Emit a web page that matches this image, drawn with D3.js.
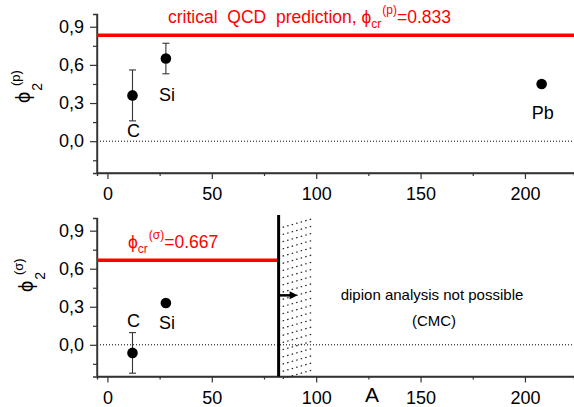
<!DOCTYPE html>
<html>
<head>
<meta charset="utf-8">
<script src="https://cdn.jsdelivr.net/npm/d3@7"></script>
<style>
    body { margin: 0; background: #fff; }
    svg { display: block; font-family: "Liberation Sans", Arial, sans-serif; }
</style>
</head>
<body>
<div id="chart"></div>
<script>

// --- data ---
const nucleiP = ["C", "Si", "Pb"];
const massP = [12, 28, 208];
const phiP = [0.36, 0.65, 0.45];
const errP = [0.20, 0.12, 0];

const nucleiS = ["C", "Si"];
const massS = [12, 28];
const phiS = [-0.064, 0.33];
const errS = [0.16, 0];

const phiCrP = 0.833;
const phiCrS = 0.667;
const cmcA = 82;         // limit of dipion analysis
const hatchEndA = 99;

const xTicks = [0, 50, 100, 150, 200];
const xMinor = [25, 75, 125, 175];
const yTicks = [0, 0.3, 0.6, 0.9];
const yMinor = [-0.15, 0.15, 0.45, 0.75];

// label offsets (px) for the nucleus names, relative to each point
const labelDyP = [42, 42, 35];
const labelDyS = [-26, 26];

const W = 574, H = 407;
const PHI = "\u03D5";

const svg = d3.select("#chart").append("svg")
    .attr("width", W)
    .attr("height", H);

const x = d3.scaleLinear().domain([-5, 223.5]).range([97, 574]);

const fmt = d => d3.format(".1f")(d).replace(".", ",");

function drawPanel(opts) {
    const y = d3.scaleLinear().domain([-0.25, 1.0]).range([opts.bottom, opts.top]);
    const g = svg.append("g");

    // zero line
    g.append("line")
        .attr("x1", x(-5)).attr("x2", W)
        .attr("y1", y(0)).attr("y2", y(0))
        .attr("stroke", "#000")
        .attr("stroke-width", 1)
        .attr("stroke-dasharray", "1,2");

    // axes
    const xAxis = d3.axisBottom(x).tickValues(xTicks).tickSize(6).tickFormat(d3.format("d"));
    const xAxisMinor = d3.axisBottom(x).tickValues(xMinor).tickSize(3).tickFormat("");
    const yAxis = d3.axisLeft(y).tickValues(yTicks).tickSize(7).tickFormat(fmt);
    const yAxisMinor = d3.axisLeft(y).tickValues(yMinor).tickSize(4).tickFormat("");

    const ax = g.append("g").attr("transform", `translate(0,${opts.bottom})`).call(xAxis);
    g.append("g").attr("transform", `translate(0,${opts.bottom})`).call(xAxisMinor);
    const ay = g.append("g").attr("transform", `translate(${x(-5)},0)`).call(yAxis);
    g.append("g").attr("transform", `translate(${x(-5)},0)`).call(yAxisMinor);

    g.selectAll(".domain").attr("stroke", "#333").attr("stroke-width", 1.4);
    g.selectAll(".tick line").attr("stroke", "#333").attr("stroke-width", 1.2);
    ax.selectAll(".tick text").attr("font-size", 18).attr("fill", "#000").attr("dy", "1.02em");
    ay.selectAll(".tick text").attr("font-size", 18).attr("fill", "#000").attr("x", -13);
    // x axis line runs to the page edge
    ax.select(".domain").attr("d", `M${x(-5)},0H${W}`);
    ay.select(".domain").attr("d", `M0,${opts.bottom}V${opts.top}`);

    return { g, y };
}

// ---------- top panel ----------
const topPanel = drawPanel({ top: 14, bottom: 173 });

topPanel.g.append("line")
    .attr("x1", x(-5)).attr("x2", W)
    .attr("y1", topPanel.y(phiCrP)).attr("y2", topPanel.y(phiCrP))
    .attr("stroke", "#f00").attr("stroke-width", 3.5);

const redTop = topPanel.g.append("text")
    .attr("x", 168).attr("y", 23)
    .attr("fill", "#f00").attr("font-size", 17.5)
    .attr("xml:space", "preserve");
redTop.append("tspan").text("critical  QCD  prediction, " + PHI);
redTop.append("tspan").attr("font-size", 12).attr("dy", 5).text("cr");
redTop.append("tspan").attr("font-size", 12).attr("dy", -14).attr("dx", 1).text("(p)");
redTop.append("tspan").attr("dy", 9).text("=0." + String(phiCrP).split(".")[1]);

function drawPoints(panel, names, xs, ys, errs, labelDy) {
    const data = names.map((n, i) => ({ n, a: xs[i], v: ys[i], e: errs[i], dy: labelDy[i] }));
    const pts = panel.g.selectAll(null).data(data).enter().append("g");

    pts.filter(d => d.e > 0).each(function (d) {
        const s = d3.select(this);
        const cx = x(d.a);
        s.append("line")
            .attr("x1", cx).attr("x2", cx)
            .attr("y1", panel.y(d.v - d.e)).attr("y2", panel.y(d.v + d.e))
            .attr("stroke", "#333").attr("stroke-width", 1.1);
        [d.v - d.e, d.v + d.e].forEach(v => {
            s.append("line")
                .attr("x1", cx - 3.5).attr("x2", cx + 3.5)
                .attr("y1", panel.y(v)).attr("y2", panel.y(v))
                .attr("stroke", "#333").attr("stroke-width", 1.1);
        });
    });

    pts.append("circle")
        .attr("cx", d => x(d.a))
        .attr("cy", d => panel.y(d.v))
        .attr("r", 5.3)
        .attr("fill", "#000");

    pts.append("text")
        .attr("x", d => x(d.a) + 1)
        .attr("y", d => panel.y(d.v) + d.dy)
        .attr("text-anchor", "middle")
        .attr("font-size", 18)
        .text(d => d.n);
}

drawPoints(topPanel, nucleiP, massP, phiP, errP, labelDyP);

function yLabel(cx, cy, sup) {
    const t = svg.append("text")
        .attr("transform", `translate(${cx},${cy}) rotate(-90)`)
        .attr("font-size", 20);
    t.append("tspan").text(PHI);
    t.append("tspan").attr("font-size", 14).attr("dy", 12).attr("dx", 1).text("2");
    t.append("tspan").attr("font-size", 13).attr("dy", -22).attr("dx", -3).text(sup);
}

yLabel(30, 103, "(p)");

// ---------- bottom panel ----------
const botPanel = drawPanel({ top: 218, bottom: 376.5 });

// hatched region: A beyond the CMC limit
const hatch = botPanel.g.append("g");
const hatchStep = 7.2;
d3.range(botPanel.y(-0.25) + 2, botPanel.y(1.0) + 4, -hatchStep).forEach(yy => {
    hatch.append("line")
        .attr("x1", x(cmcA) + 4).attr("x2", x(hatchEndA))
        .attr("y1", yy).attr("y2", yy - 9)
        .attr("stroke", "#222")
        .attr("stroke-width", 1.2)
        .attr("stroke-dasharray", "1.5,3.2");
});

botPanel.g.append("line")
    .attr("x1", x(-5)).attr("x2", x(cmcA))
    .attr("y1", botPanel.y(phiCrS)).attr("y2", botPanel.y(phiCrS))
    .attr("stroke", "#f00").attr("stroke-width", 3.5);

botPanel.g.append("line")
    .attr("x1", x(cmcA)).attr("x2", x(cmcA))
    .attr("y1", 215).attr("y2", botPanel.y(-0.25))
    .attr("stroke", "#000").attr("stroke-width", 3);

// arrow
const arrowY = botPanel.y(0.39);
botPanel.g.append("line")
    .attr("x1", x(cmcA)).attr("x2", x(cmcA) + 13)
    .attr("y1", arrowY).attr("y2", arrowY)
    .attr("stroke", "#000").attr("stroke-width", 2.5);
botPanel.g.append("path")
    .attr("d", `M${x(cmcA) + 19},${arrowY} l-8,-4 v8 z`)
    .attr("fill", "#000");

const redBot = botPanel.g.append("text")
    .attr("x", 128).attr("y", 248)
    .attr("fill", "#f00").attr("font-size", 17.5);
redBot.append("tspan").text(PHI);
redBot.append("tspan").attr("font-size", 12).attr("dy", 5).text("cr");
redBot.append("tspan").attr("font-size", 12).attr("dy", -14).attr("dx", 1).text("(σ)");
redBot.append("tspan").attr("dy", 9).text("=0." + String(phiCrS).split(".")[1]);

botPanel.g.append("text")
    .attr("x", 432).attr("y", 300)
    .attr("text-anchor", "middle").attr("font-size", 15)
    .text("dipion analysis not possible");
botPanel.g.append("text")
    .attr("x", 434).attr("y", 326)
    .attr("text-anchor", "middle").attr("font-size", 15)
    .text("(CMC)");

drawPoints(botPanel, nucleiS, massS, phiS, errS, labelDyS);

yLabel(33, 292, "(σ)");

svg.append("text")
    .attr("x", 372).attr("y", 402)
    .attr("text-anchor", "middle")
    .attr("font-size", 21)
    .text("A");

</script>
</body>
</html>
